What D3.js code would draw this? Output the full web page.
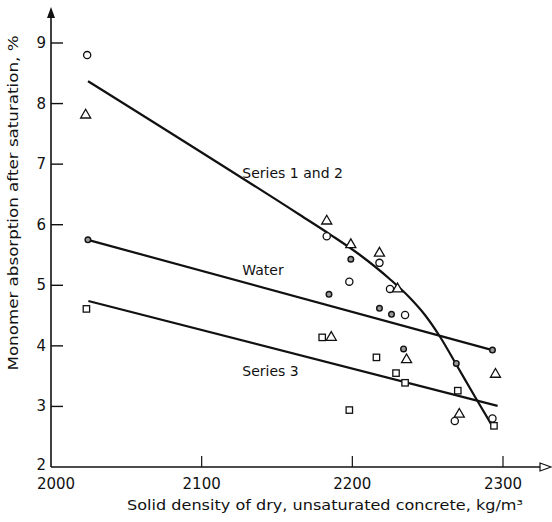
<!DOCTYPE html>
<html>
<head>
<meta charset="utf-8">
<script src="https://cdn.jsdelivr.net/npm/d3@7"></script>
<style>
  body { margin: 0; background: #fff; }
  text { font-family: "DejaVu Sans", sans-serif; fill: #111; }
</style>
</head>
<body>
<script>
/* Monomer absorption vs solid density */

// tick values
const xTicks = [2000, 2100, 2200, 2300];
const yTicks = [2, 3, 4, 5, 6, 7, 8, 9];

// measured points [density, absorption]
const openCircles = [[2024, 8.80], [2183, 5.81], [2198, 5.06], [2218, 5.37], [2225, 4.94],
                     [2235, 4.51], [2268, 2.76], [2293, 2.80]];
const dotCircles = [[2024.5, 5.75], [2199, 5.43], [2184.5, 4.85], [2218, 4.62], [2226, 4.52],
                    [2234, 3.95], [2269, 3.71], [2293, 3.93]];
const triangles = [[2023, 7.81], [2183, 6.06], [2199, 5.67], [2218, 5.53], [2230, 4.94],
                   [2186, 4.14], [2236, 3.77], [2295, 3.53], [2271, 2.87]];
const squares = [[2023.5, 4.61], [2180, 4.14], [2216, 3.81], [2229, 3.55], [2235, 3.39],
                 [2270, 3.26], [2294, 2.68], [2198, 2.94]];

// fitted lines
const series12Line = [[2024.6, 8.37], [2165.3, 6.16], [2185.2, 5.84], [2205.1, 5.50],
                      [2225.0, 5.10], [2238.3, 4.79], [2248.2, 4.51], [2258.2, 4.15],
                      [2268.8, 3.70], [2281.4, 3.16], [2294.0, 2.63]];
const waterLine = [[2024.5, 5.75], [2293, 3.93]];
const series3Line = [[2024.8, 4.74], [2296.4, 3.01]];

// line labels [text, density, absorption]
const lineLabels = [["Series 1 and 2", 2127, 6.77], ["Water", 2127, 5.17], ["Series 3", 2127, 3.50]];

const width = 552, height = 522;

var svg = d3.select("body").append("svg")
    .attr("width", width)
    .attr("height", height);

var x = d3.scaleLinear().domain([2000, 2300]).range([51, 503]);
var y = d3.scaleLinear().domain([2, 9]).range([467, 43]);

// axes lines
svg.append("line").attr("x1", 51).attr("x2", 544).attr("y1", y(2)).attr("y2", y(2))
    .attr("stroke", "#111").attr("stroke-width", 1.6);
svg.append("line").attr("x1", 51).attr("x2", 51).attr("y1", y(2)).attr("y2", 16)
    .attr("stroke", "#111").attr("stroke-width", 1.6);

// arrow heads
svg.append("path").attr("d", "M47,18 L51,7 L55,18 Z").attr("fill", "#111");
svg.append("path").attr("d", "M540,463 L551,467 L540,471 Z")
    .attr("fill", "#fff").attr("stroke", "#111").attr("stroke-width", 1.2);

// y ticks (inward)
svg.selectAll(".yt").data(yTicks.filter(d => d > 2)).enter().append("line")
    .attr("x1", 51).attr("x2", 63)
    .attr("y1", d => y(d)).attr("y2", d => y(d))
    .attr("stroke", "#111").attr("stroke-width", 1.4);
svg.selectAll(".yl").data(yTicks).enter().append("text")
    .attr("x", 46).attr("y", d => d === 2 ? y(d) + 3 : y(d) + 5)
    .attr("text-anchor", "end")
    .style("font-size", "15px")
    .text(d => d);

// x ticks (inward)
svg.selectAll(".xt").data(xTicks.filter(d => d > 2000)).enter().append("line")
    .attr("x1", d => x(d)).attr("x2", d => x(d))
    .attr("y1", y(2)).attr("y2", y(2) - 11)
    .attr("stroke", "#111").attr("stroke-width", 1.2);
svg.selectAll(".xl").data(xTicks).enter().append("text")
    .attr("x", d => d === 2000 ? x(d) + 5 : x(d)).attr("y", 489)
    .attr("text-anchor", "middle")
    .style("font-size", "15px")
    .text(d => d);

// axis titles
svg.append("text")
    .attr("x", 325).attr("y", 510)
    .attr("text-anchor", "middle")
    .attr("textLength", 396).attr("lengthAdjust", "spacingAndGlyphs")
    .style("font-size", "14px")
    .text("Solid density of dry, unsaturated concrete, kg/m³");
svg.append("text")
    .attr("transform", "translate(18,203) rotate(-90)")
    .attr("text-anchor", "middle")
    .attr("textLength", 335).attr("lengthAdjust", "spacingAndGlyphs")
    .style("font-size", "14px")
    .text("Monomer absorption after saturation, %");

// fitted lines
var line = d3.line().x(d => x(d[0])).y(d => y(d[1]));
var curve = d3.line().x(d => x(d[0])).y(d => y(d[1])).curve(d3.curveMonotoneX);

[waterLine, series3Line].forEach(function (l) {
    svg.append("path").attr("d", line(l))
        .attr("fill", "none").attr("stroke", "#111").attr("stroke-width", 2.2);
});
svg.append("path").attr("d", curve(series12Line))
    .attr("fill", "none").attr("stroke", "#111").attr("stroke-width", 2.2);

// line labels
svg.selectAll(".ll").data(lineLabels).enter().append("text")
    .attr("x", d => x(d[1])).attr("y", d => y(d[2]))
    .style("font-size", "14px")
    .text(d => d[0]);

// markers
svg.selectAll(".oc").data(openCircles).enter().append("circle")
    .attr("cx", d => x(d[0])).attr("cy", d => y(d[1])).attr("r", 3.6)
    .attr("fill", "#fff").attr("stroke", "#111").attr("stroke-width", 1.3);

svg.selectAll(".dc").data(dotCircles).enter().append("circle")
    .attr("cx", d => x(d[0])).attr("cy", d => y(d[1])).attr("r", 2.8)
    .attr("fill", "#999").attr("stroke", "#111").attr("stroke-width", 1.4);

var tri = d3.symbol().type(d3.symbolTriangle).size(44);
svg.selectAll(".tr").data(triangles).enter().append("path")
    .attr("d", tri)
    .attr("transform", d => "translate(" + x(d[0]) + "," + y(d[1]) + ")")
    .attr("fill", "#fff").attr("stroke", "#111").attr("stroke-width", 1.3);

svg.selectAll(".sq").data(squares).enter().append("rect")
    .attr("x", d => x(d[0]) - 3.2).attr("y", d => y(d[1]) - 3.2)
    .attr("width", 6.4).attr("height", 6.4)
    .attr("fill", "#fff").attr("stroke", "#111").attr("stroke-width", 1.3);
</script>
</body>
</html>
